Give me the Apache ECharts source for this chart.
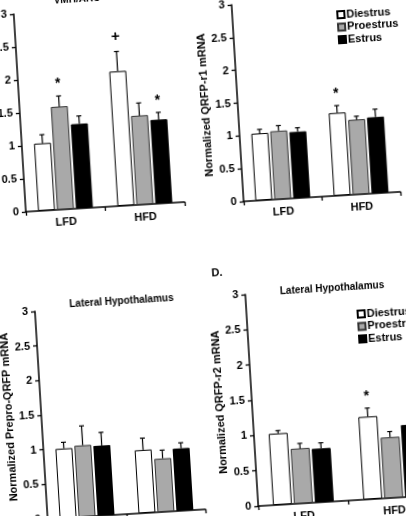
<!DOCTYPE html>
<html><head><meta charset="utf-8">
<script src="https://cdn.jsdelivr.net/npm/echarts@6/dist/echarts.min.js"></script>
<style>
html,body{margin:0;padding:0;width:406px;height:516px;overflow:hidden;background:#fff;}
#c{position:absolute;left:-20px;top:-20px;width:446px;height:556px;transform:rotate(-3.5deg);transform-origin:50% 50%;}
</style></head><body><div id="c"></div>
<script>
// ---- data ----
const categories = ['LFD', 'HFD'];
const phases = ['Diestrus', 'Proestrus', 'Estrus'];
const yTickLabels = ['0', '0.5', '1', '1.5', '2', '2.5', '3'];

// Panel A: VMH/ARC
const aDiestrus = [1.02, 2.04];  const aDiestrusErr = [0.13, 0.30];  const aDiestrusMark = ['', '+'];
const aProestrus = [1.56, 1.35]; const aProestrusErr = [0.16, 0.19]; const aProestrusMark = ['*', ''];
const aEstrus = [1.28, 1.27];    const aEstrusErr = [0.12, 0.11];    const aEstrusMark = ['', '*'];

// Panel B: QRFP-r1
const bDiestrus = [1.02, 1.26];  const bDiestrusErr = [0.06, 0.11];  const bDiestrusMark = ['', '*'];
const bProestrus = [1.04, 1.14]; const bProestrusErr = [0.08, 0.05]; const bProestrusMark = ['', ''];
const bEstrus = [1.01, 1.16];    const bEstrusErr = [0.06, 0.12];    const bEstrusMark = ['', ''];

// Panel C: Lateral Hypothalamus, Prepro-QRFP
const cDiestrus = [1.00, 0.91];  const cDiestrusErr = [0.09, 0.17];  const cDiestrusMark = ['', ''];
const cProestrus = [1.03, 0.77]; const cProestrusErr = [0.28, 0.12]; const cProestrusMark = ['', ''];
const cEstrus = [1.01, 0.90];    const cEstrusErr = [0.19, 0.08];    const cEstrusMark = ['', ''];

// Panel D: Lateral Hypothalamus, QRFP-r2
const dDiestrus = [1.01, 1.17];  const dDiestrusErr = [0.04, 0.12];  const dDiestrusMark = ['', '*'];
const dProestrus = [0.78, 0.86]; const dProestrusErr = [0.07, 0.08]; const dProestrusMark = ['', ''];
const dEstrus = [0.76, 1.02];    const dEstrusErr = [0.08, 0.09];    const dEstrusMark = ['', ''];

// ---- layout / style ----
const FONT = 'Liberation Sans, Arial, sans-serif';
const fills = ['#ffffff', '#a9a9a9', '#000000'];
const borders = ['#000000', '#333333', '#000000'];

const panels = [
  { grid: {left: 49, top: 23, width: 159, height: 198}, barW: 17, gap: 2, yName: '', nameGap: 0,
    series: [[aDiestrus, aDiestrusErr, aDiestrusMark], [aProestrus, aProestrusErr, aProestrusMark], [aEstrus, aEstrusErr, aEstrusMark]] },
  { grid: {left: 267, top: 27, width: 157, height: 197}, barW: 17, gap: 2, yName: 'Normalized QRFP-r1 mRNA', nameGap: 26,
    series: [[bDiestrus, bDiestrusErr, bDiestrusMark], [bProestrus, bProestrusErr, bProestrusMark], [bEstrus, bEstrusErr, bEstrusMark]] },
  { grid: {left: 52, top: 321, width: 158, height: 208}, barW: 17, gap: 2, yName: 'Normalized Prepro-QRFP mRNA', nameGap: 19,
    series: [[cDiestrus, cDiestrusErr, cDiestrusMark], [cProestrus, cProestrusErr, cProestrusMark], [cEstrus, cEstrusErr, cEstrusMark]] },
  { grid: {left: 263, top: 317, width: 181, height: 212}, barW: 19, gap: 2, yName: 'Normalized QRFP-r2 mRNA', nameGap: 22,
    series: [[dDiestrus, dDiestrusErr, dDiestrusMark], [dProestrus, dProestrusErr, dProestrusMark], [dEstrus, dEstrusErr, dEstrusMark]] }
];

const grids = [], xAxes = [], yAxes = [], series = [];
panels.forEach((p, pi) => {
  grids.push(Object.assign({outerBoundsMode: 'none', containLabel: false}, p.grid));
  xAxes.push({
    type: 'category', gridIndex: pi, data: categories, boundaryGap: true,
    axisLine: {lineStyle: {color: '#000', width: 1.5}},
    axisTick: {show: true, length: 4, lineStyle: {color: '#000', width: 1.3}},
    axisLabel: {color: '#000', fontFamily: FONT, fontWeight: 'bold', fontSize: 11, margin: 7},
    splitLine: {show: false}
  });
  yAxes.push({
    type: 'value', gridIndex: pi, min: 0, max: 3, interval: 0.5,
    name: p.yName, nameLocation: 'middle', nameRotate: 90, nameGap: p.nameGap,
    nameTextStyle: {color: '#000', fontFamily: FONT, fontWeight: 'bold', fontSize: 11},
    axisLine: {show: true, lineStyle: {color: '#000', width: 1.5}},
    axisTick: {show: true, length: 4, lineStyle: {color: '#000', width: 1.3}},
    axisLabel: {color: '#000', fontFamily: FONT, fontWeight: 'bold', fontSize: 11, margin: 7,
      formatter: v => yTickLabels[Math.round(v / 0.5)]},
    splitLine: {show: false}
  });
  const gapPct = (p.gap / p.barW * 100).toFixed(1) + '%';
  p.series.forEach((s, i) => {
    const [vals, errs, marks] = s;
    series.push({
      type: 'bar', name: phases[i], xAxisIndex: pi, yAxisIndex: pi,
      data: vals, barWidth: p.barW, barGap: gapPct,
      itemStyle: {color: fills[i], borderColor: borders[i], borderWidth: 1},
      emphasis: {disabled: true}, z: 2
    });
    series.push({
      type: 'custom', name: phases[i] + ' err', xAxisIndex: pi, yAxisIndex: pi, z: 3,
      data: vals.map((v, k) => [k, v, errs[k]]),
      renderItem: (params, api) => {
        const c = api.value(0), v = api.value(1), e = api.value(2);
        const total = 3 * p.barW + 2 * p.gap;
        const off = -total / 2 + p.barW / 2 + i * (p.barW + p.gap);
        const base = api.coord([c, v]);
        const top = api.coord([c, v + e]);
        const x = base[0] + off;
        const ch = [
          {type: 'line', shape: {x1: x, y1: base[1], x2: x, y2: top[1]}, style: {stroke: '#000', lineWidth: 1.2}},
          {type: 'line', shape: {x1: x - 2.5, y1: top[1], x2: x + 2.5, y2: top[1]}, style: {stroke: '#000', lineWidth: 1.2}}
        ];
        const m = marks[params.dataIndex];
        if (m) {
          ch.push({type: 'text', x: x, y: top[1] - (m === '*' ? 12 : 15),
            style: {text: m, fontFamily: FONT, fontWeight: 'bold', fontSize: m === '*' ? 14 : 15,
              fill: '#000', align: 'center', verticalAlign: 'middle'}});
        }
        return {type: 'group', children: ch};
      }
    });
  });
});

const legendBase = {
  orient: 'vertical', selectedMode: false, data: phases, icon: 'rect',
  itemWidth: 7, itemHeight: 7, itemGap: 1.5,
  textStyle: {color: '#000', fontFamily: FONT, fontWeight: 'bold', fontSize: 11, lineHeight: 10, padding: [0, 0, 0, -3]}
};

const titleStyle = (t, size) => ({text: t, fontFamily: FONT, fontWeight: 'bold', fontSize: size, fill: '#000', align: 'center', verticalAlign: 'middle'});

const chart = echarts.init(document.getElementById('c'), null, {renderer: 'canvas'});
chart.setOption({
  animation: false,
  backgroundColor: 'transparent',
  grid: grids, xAxis: xAxes, yAxis: yAxes, series: series,
  legend: [
    Object.assign({left: 366, top: 33}, legendBase),
    Object.assign({left: 368, top: 333}, legendBase)
  ],
  graphic: [
    {type: 'text', x: 113, y: 12, style: titleStyle('VMH/ARC', 10)},
    {type: 'text', x: 139, y: 316, style: titleStyle('Lateral Hypothalamus', 10)},
    {type: 'text', x: 236, y: 294, style: titleStyle('D.', 11)},
    {type: 'text', x: 350, y: 316, style: titleStyle('Lateral Hypothalamus', 10)}
  ]
});
</script></body></html>
